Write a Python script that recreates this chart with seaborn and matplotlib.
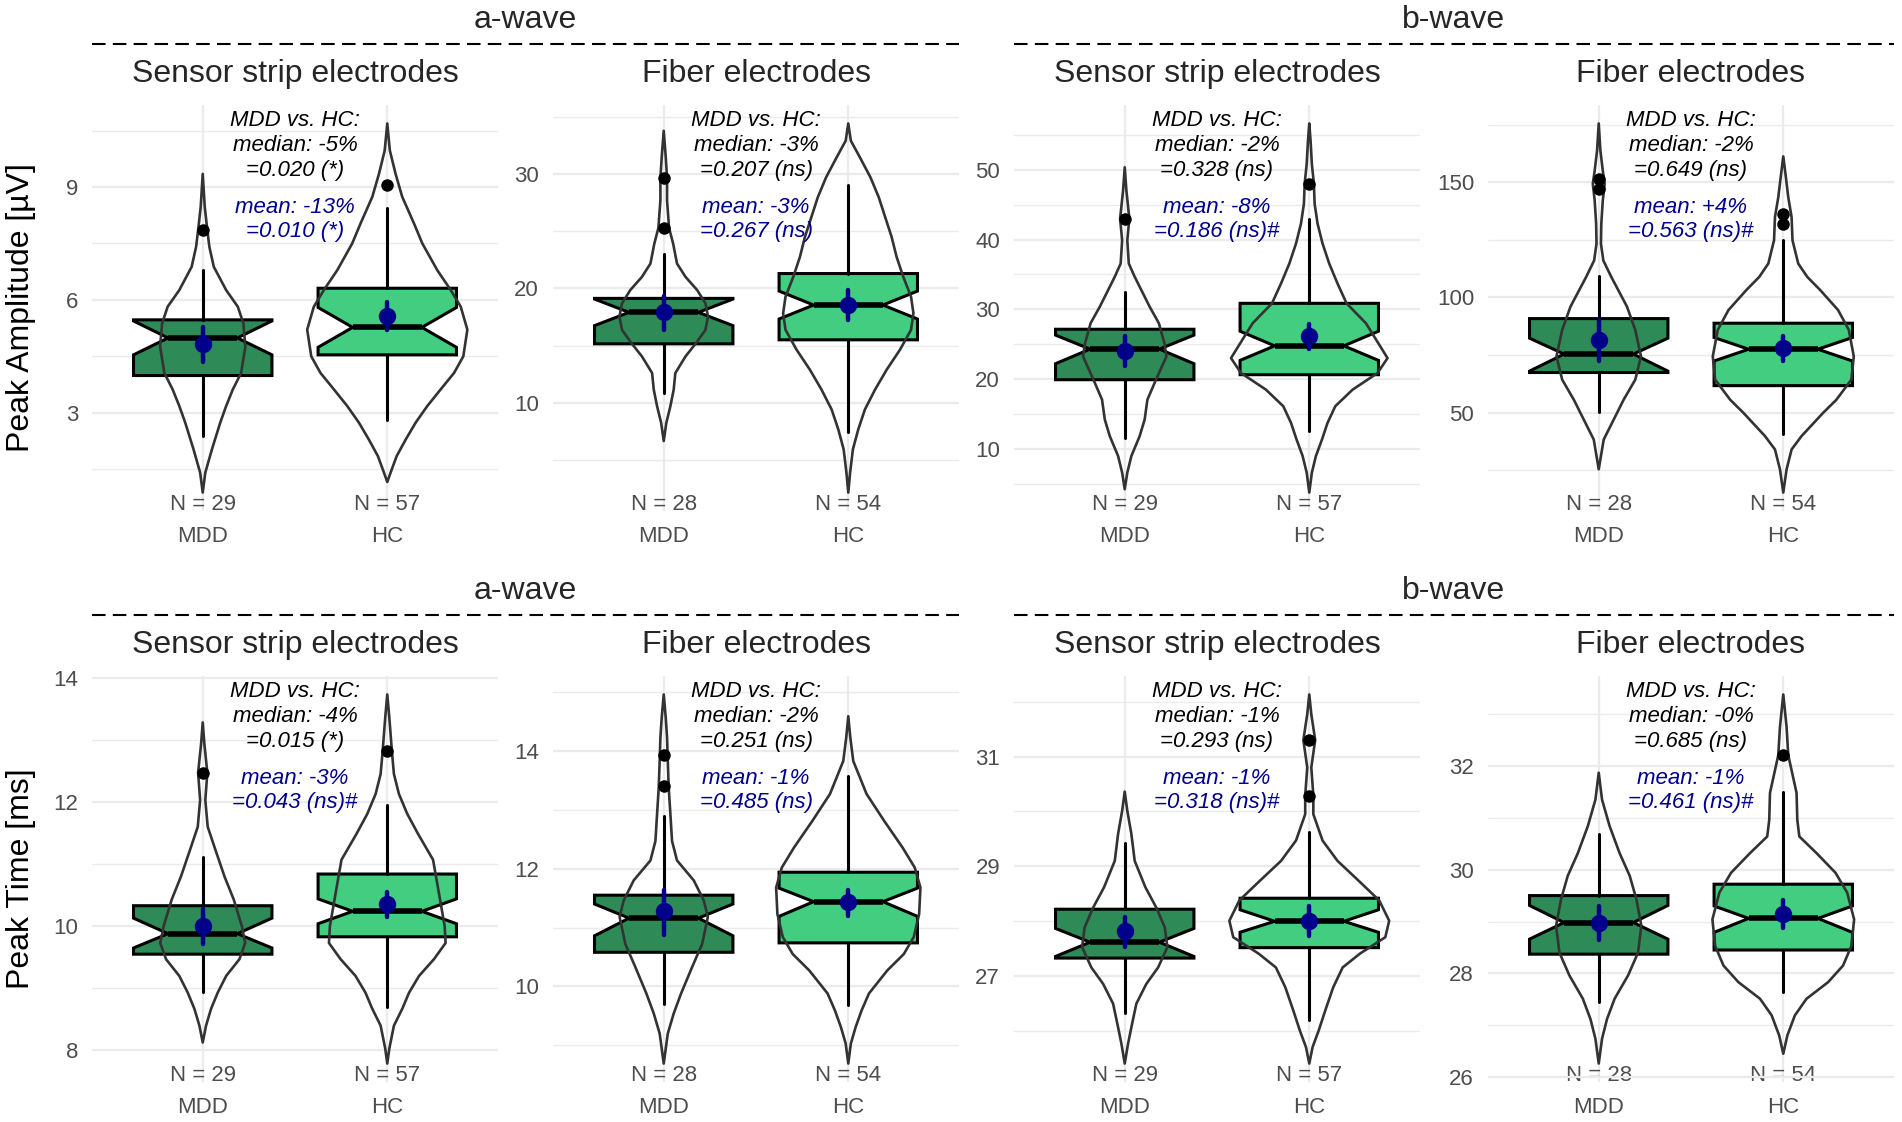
import matplotlib
matplotlib.use("Agg")
import numpy as np
import pandas as pd
import seaborn as sns
from matplotlib import pyplot as plt
from matplotlib.lines import Line2D

groups = ["MDD", "HC"]
measures = ["Peak Amplitude [µV]", "Peak Time [ms]"]
waves = ["a-wave", "b-wave"]
electrodes = ["Sensor strip electrodes", "Fiber electrodes"]
group_n = {"Sensor strip electrodes": [29, 57], "Fiber electrodes": [28, 54]}

# Panels in reading order: amplitude row, then time row;
# within a row: a-wave strip, a-wave fiber, b-wave strip, b-wave fiber.
# Every pair below is (MDD, HC).
box_q1 = [(3.99, 4.54), (15.16, 15.51), (19.90, 20.62), (67.4, 61.7),
          (9.55, 9.83), (10.58, 10.74), (27.33, 27.52), (28.37, 28.45)]
box_med = [(4.99, 5.27), (17.91, 18.55), (24.29, 24.76), (75.4, 77.5),
           (9.88, 10.24), (11.16, 11.44), (27.62, 28.00), (28.98, 29.06)]
box_q3 = [(5.47, 6.31), (19.13, 21.30), (27.14, 30.86), (90.8, 88.8),
          (10.33, 10.84), (11.55, 11.94), (28.22, 28.42), (29.50, 29.72)]
notch_lo = [(4.54, 4.74), (16.75, 17.33), (22.2, 22.67), (68.0, 72.4),
            (9.65, 10.04), (10.86, 11.19), (27.36, 27.80), (28.66, 28.79)]
notch_hi = [(5.44, 5.80), (19.07, 19.77), (26.3, 26.86), (82.3, 82.6),
            (10.13, 10.44), (11.40, 11.67), (27.87, 28.21), (29.31, 29.30)]
whisk_lo = [(2.38, 2.80), (10.87, 7.45), (11.57, 12.52), (50.1, 40.5),
            (8.94, 8.70), (9.71, 9.69), (26.33, 26.21), (27.44, 27.64)]
whisk_hi = [(6.79, 8.43), (22.99, 29.07), (32.52, 43.0), (109.4, 124.8),
            (11.11, 11.95), (12.90, 13.58), (29.42, 29.62), (30.69, 31.49)]
outliers = [([7.85], [9.06]), ([29.62, 25.28], []), ([43.0], [48.0]),
            ([151.4, 147.1], [136.3, 131.7]), ([12.47], [12.82]),
            ([13.93, 13.40], []), ([], [31.30, 30.29]), ([], [32.21])]

mean_val = [(4.84, 5.56), (17.9, 18.55), (24.05, 26.19), (81.3, 78.2),
            (10.0, 10.36), (11.28, 11.43), (27.83, 28.01), (28.98, 29.14)]
mean_lo = [(4.34, 5.19), (16.38, 17.25), (21.81, 24.29), (72.2, 72.2),
           (9.72, 10.15), (10.88, 11.20), (27.54, 27.74), (28.65, 28.87)]
mean_hi = [(5.29, 5.94), (19.36, 19.86), (26.24, 27.86), (90.2, 83.4),
           (10.28, 10.55), (11.64, 11.63), (28.08, 28.27), (29.30, 29.42)]

# violin outlines: (value, half width in category units)
violin_mdd = [
    [(9.35, 0), (8.47, 0.011), (7.85, 0.025), (7.41, 0.036), (6.88, 0.06), (6.26, 0.127),
     (5.82, 0.19), (5.38, 0.22), (4.76, 0.231), (4.06, 0.208), (3.62, 0.163), (3.18, 0.127),
     (2.74, 0.095), (2.03, 0.05), (1.41, 0.014), (0.88, 0)],
    [(33.77, 0), (31.45, 0.011), (29.62, 0.018), (27.68, 0.018), (25.28, 0.029), (23.91, 0.051),
     (22.17, 0.072), (21.01, 0.118), (19.86, 0.181), (18.70, 0.226), (17.54, 0.24), (16.38, 0.226),
     (15.22, 0.175), (14.06, 0.118), (12.61, 0.063), (11.16, 0.054), (9.71, 0.036), (8.26, 0.014),
     (6.67, 0)],
    [(50.38, 0), (47.05, 0.009), (43.0, 0.025), (39.9, 0.014), (36.57, 0.022), (34.67, 0.054),
     (32.76, 0.09), (30.38, 0.135), (28.0, 0.185), (25.14, 0.215), (23.24, 0.226), (20.0, 0.171),
     (17.05, 0.123), (14.19, 0.108), (11.81, 0.081), (8.95, 0.036), (6.57, 0.014), (4.19, 0)],
    [(175.5, 0), (163.7, 0.009), (155.0, 0.022), (149.3, 0.032), (142.1, 0.022), (132.0, 0.014),
     (123.3, 0.012), (116.0, 0.025), (108.9, 0.068), (96.0, 0.153), (85.9, 0.198), (74.4, 0.229),
     (64.3, 0.198), (55.6, 0.135), (45.5, 0.072), (38.3, 0.027), (25.4, 0)],
    [(13.28, 0), (12.93, 0.009), (12.47, 0.025), (12.03, 0.014), (11.6, 0.027), (11.28, 0.063),
     (10.8, 0.118), (10.43, 0.168), (10.0, 0.212), (9.73, 0.23), (9.47, 0.199), (9.2, 0.127),
     (8.93, 0.081), (8.67, 0.045), (8.4, 0.018), (8.13, 0)],
    [(14.96, 0), (14.56, 0.011), (14.23, 0.018), (13.83, 0.022), (13.38, 0.027), (12.93, 0.036),
     (12.47, 0.045), (12.14, 0.072), (11.80, 0.163), (11.46, 0.217), (11.18, 0.239), (10.72, 0.208),
     (10.33, 0.154), (9.88, 0.094), (9.54, 0.054), (9.20, 0.022), (8.69, 0)],
    [(30.36, 0), (30.01, 0.014), (29.59, 0.036), (29.10, 0.054), (28.62, 0.112), (28.25, 0.171),
     (27.89, 0.217), (27.53, 0.231), (27.16, 0.181), (26.86, 0.117), (26.50, 0.063), (26.07, 0.036),
     (25.77, 0.018), (25.41, 0)],
    [(31.87, 0), (31.35, 0.018), (30.84, 0.059), (30.32, 0.113), (29.88, 0.168), (29.43, 0.204),
     (28.92, 0.231), (28.40, 0.213), (27.96, 0.159), (27.51, 0.086), (27.12, 0.045), (26.74, 0.018),
     (26.26, 0)],
]
violin_hc = [
    [(10.69, 0), (9.97, 0.014), (9.35, 0.045), (8.74, 0.081), (8.03, 0.145), (7.50, 0.19),
     (6.79, 0.271), (6.26, 0.344), (5.82, 0.398), (5.21, 0.434), (4.50, 0.412), (4.06, 0.362),
     (3.62, 0.289), (3.18, 0.217), (2.74, 0.154), (2.29, 0.10), (1.85, 0.051), (1.41, 0.018),
     (1.16, 0)],
    [(34.41, 0), (32.90, 0.014), (31.45, 0.063), (29.71, 0.12), (27.97, 0.165), (26.23, 0.2),
     (24.49, 0.235), (22.75, 0.262), (21.01, 0.298), (19.28, 0.34), (17.83, 0.353), (16.38, 0.34),
     (14.64, 0.28), (12.90, 0.208), (11.16, 0.145), (9.42, 0.09), (7.68, 0.054), (5.94, 0.025),
     (3.91, 0.01), (2.17, 0)],
    [(56.67, 0), (54.19, 0.007), (50.86, 0.014), (48.0, 0.025), (45.14, 0.029), (42.29, 0.045),
     (39.43, 0.072), (36.57, 0.108), (33.71, 0.153), (30.86, 0.202), (28.0, 0.307), (25.14, 0.374),
     (23.0, 0.424), (20.86, 0.37), (18.48, 0.235), (16.1, 0.141), (13.71, 0.099), (11.33, 0.069),
     (8.95, 0.036), (6.57, 0.014), (3.71, 0)],
    [(161.2, 0), (152.2, 0.014), (143.5, 0.027), (134.9, 0.045), (124.8, 0.05), (114.7, 0.081),
     (108.9, 0.13), (103.2, 0.2), (94.5, 0.297), (85.9, 0.355), (74.4, 0.382), (64.3, 0.369),
     (55.6, 0.288), (49.9, 0.216), (39.8, 0.099), (34.0, 0.045), (25.4, 0.018), (15.3, 0)],
    [(13.73, 0), (13.36, 0.011), (12.82, 0.025), (12.45, 0.036), (12.13, 0.063), (11.81, 0.108),
     (11.49, 0.166), (11.07, 0.248), (10.53, 0.28), (10.0, 0.311), (9.73, 0.316), (9.47, 0.253),
     (9.2, 0.172), (8.93, 0.118), (8.67, 0.081), (8.4, 0.036), (8.03, 0.011), (7.79, 0)],
    [(14.59, 0), (14.23, 0.011), (13.83, 0.027), (13.27, 0.099), (12.81, 0.195), (12.36, 0.294),
     (12.02, 0.36), (11.68, 0.391), (11.23, 0.384), (10.84, 0.355), (10.55, 0.301), (10.27, 0.211),
     (9.88, 0.112), (9.59, 0.072), (9.31, 0.04), (9.03, 0.014), (8.69, 0)],
    [(32.13, 0), (31.77, 0.011), (31.30, 0.032), (30.80, 0.011), (30.29, 0.022), (29.95, 0.022),
     (29.47, 0.072), (29.10, 0.153), (28.74, 0.267), (28.38, 0.379), (28.01, 0.433), (27.71, 0.412),
     (27.41, 0.274), (27.16, 0.181), (26.80, 0.13), (26.38, 0.087), (26.01, 0.051), (25.71, 0.018),
     (25.41, 0)],
    [(33.38, 0), (32.75, 0.018), (32.21, 0.027), (31.48, 0.072), (30.96, 0.076), (30.64, 0.087),
     (30.32, 0.18), (29.94, 0.283), (29.56, 0.346), (29.04, 0.384), (28.53, 0.369), (28.15, 0.324),
     (27.83, 0.243), (27.51, 0.126), (27.19, 0.063), (26.80, 0.022), (26.45, 0)],
]

median_change = ["-5%", "-3%", "-2%", "-2%", "-4%", "-2%", "-1%", "-0%"]
median_p = ["=0.020 (*)", "=0.207 (ns)", "=0.328 (ns)", "=0.649 (ns)",
            "=0.015 (*)", "=0.251 (ns)", "=0.293 (ns)", "=0.685 (ns)"]
mean_change = ["-13%", "-3%", "-8%", "+4%", "-3%", "-1%", "-1%", "-1%"]
mean_p = ["=0.010 (*)", "=0.267 (ns)", "=0.186 (ns)#", "=0.563 (ns)#",
          "=0.043 (ns)#", "=0.485 (ns)", "=0.318 (ns)#", "=0.461 (ns)#"]

major_ticks = [[3, 6, 9], [10, 20, 30], [10, 20, 30, 40, 50], [50, 100, 150],
               [8, 10, 12, 14], [10, 12, 14], [27, 29, 31], [26, 28, 30, 32]]
minor_ticks = [[1.5, 4.5, 7.5, 10.5], [5, 15, 25, 35], [5, 15, 25, 35, 45, 55],
               [25, 75, 125, 175], [9, 11, 13], [9, 11, 13, 15], [26, 28, 30, 32],
               [27, 29, 31, 33]]

fills = ["#2e8b57", "#43cd80"]
GRID = "#ebebeb"
TICK = "#4d4d4d"

sns.set_theme(style="whitegrid")
plt.rcParams["font.family"] = ["Liberation Sans", "DejaVu Sans"]

W, H = 1902, 1122
col_left = [92, 553, 1014, 1488]
row_top = [105, 676]
pw, ph = 406, 406

fig = plt.figure(figsize=(W / 100, H / 100), dpi=100)
fig.patch.set_facecolor("white")

for i in range(8):
    r, c = divmod(i, 4)
    ax = fig.add_axes([col_left[c] / W, 1 - (row_top[r] + ph) / H, pw / W, ph / H])
    ax.set_facecolor("white")
    elec = electrodes[c % 2]
    ns = group_n[elec]

    stats = []
    for j, g in enumerate(groups):
        stats.append(dict(label=g, q1=box_q1[i][j], med=box_med[i][j], q3=box_q3[i][j],
                          cilo=notch_lo[i][j], cihi=notch_hi[i][j],
                          whislo=whisk_lo[i][j], whishi=whisk_hi[i][j], fliers=[]))
    bp = ax.bxp(stats, positions=[0, 1], widths=0.75, shownotches=True, patch_artist=True,
                showcaps=False, showfliers=False, manage_ticks=False,
                boxprops=dict(edgecolor="black", linewidth=2.2),
                whiskerprops=dict(color="black", linewidth=2.2),
                medianprops=dict(color="black", linewidth=4.0, solid_capstyle="butt"))
    for patch, fc in zip(bp["boxes"], fills):
        patch.set_facecolor(fc)

    all_y = []
    for j, prof in enumerate((violin_mdd[i], violin_hc[i])):
        v = np.array(prof, dtype=float)
        all_y.extend(v[:, 0])
        ax.fill_betweenx(v[:, 0], j - v[:, 1], j + v[:, 1], facecolor="none",
                         edgecolor="#333333", linewidth=1.9, joinstyle="round", zorder=3)

    means = pd.DataFrame({
        "group": [g for g in groups for _ in range(3)],
        "value": [x for j in range(2)
                  for x in (mean_lo[i][j], mean_val[i][j], mean_hi[i][j])],
    })
    sns.pointplot(data=means, x="group", y="value", order=groups, estimator="median",
                  errorbar=("pi", 100), color="darkblue", markers="o", linestyle="none",
                  markersize=10.5, err_kws={"linewidth": 3.2, "zorder": 5}, zorder=6, ax=ax)

    flier_df = pd.DataFrame({
        "group": [groups[j] for j in range(2) for _ in outliers[i][j]],
        "value": [y for j in range(2) for y in outliers[i][j]],
    })
    sns.stripplot(data=flier_df, x="group", y="value", order=groups, jitter=False,
                  color="black", size=9, linewidth=0, zorder=6, ax=ax)

    lo, hi = min(all_y), max(all_y)
    pad = 0.05 * (hi - lo)
    ax.set_ylim(lo - pad, hi + pad)
    ax.set_xlim(-0.6, 1.6)
    ax.set_xlabel("")
    ax.set_ylabel("")
    ax.set_yticks(major_ticks[i])
    ax.set_yticks(minor_ticks[i], minor=True)
    ax.set_xticks([0, 1], labels=[f"N = {n}\n{g}" for n, g in zip(ns, groups)])
    ax.set_axisbelow(True)
    ax.grid(True, which="major", axis="both", color=GRID, linewidth=1.6)
    ax.grid(True, which="minor", axis="y", color=GRID, linewidth=1.0)
    for s in ax.spines.values():
        s.set_visible(False)
    ax.tick_params(axis="both", which="both", length=0)
    ax.tick_params(axis="y", labelsize=16, labelcolor=TICK, pad=10)
    ax.tick_params(axis="x", labelsize=16, labelcolor=TICK, pad=-12)
    for lab in ax.get_xticklabels():
        lab.set_linespacing(1.65)

    ax.annotate(elec, xy=(0.5, 1), xycoords="axes fraction", xytext=(0, 16.6),
                textcoords="offset points", ha="center", va="baseline", fontsize=23)
    lines = [("MDD vs. HC:", "black", 15.1),
             (f"median: {median_change[i]}", "black", 33.1),
             (median_p[i], "black", 51.1),
             (f"mean: {mean_change[i]}", "darkblue", 77.5),
             (mean_p[i], "darkblue", 94.8)]
    for txt, colr, off in lines:
        ax.annotate(txt, xy=(0.5, 1), xycoords="axes fraction", xytext=(0, -off),
                    textcoords="offset points", ha="center", va="baseline",
                    fontsize=16, style="italic", color=colr, zorder=7)

for r in range(2):
    top = row_top[r]
    fig.text(21 / W, 1 - (top + ph / 2) / H, measures[r], rotation=90,
             ha="center", va="center", fontsize=23, color="black")
    for w in range(2):
        x0 = col_left[2 * w]
        x1 = col_left[2 * w + 1] + pw
        fig.text((x0 + x1) / 2 / W, 1 - (top - 77) / H, waves[w],
                 ha="center", va="baseline", fontsize=23)
        fig.add_artist(Line2D([x0 / W, x1 / W], [1 - (top - 61.5) / H] * 2,
                              transform=fig.transFigure, color="black",
                              linewidth=1.5, linestyle=(0, (6.5, 3.5))))

fig.savefig("out.png", dpi=100, facecolor="white")
